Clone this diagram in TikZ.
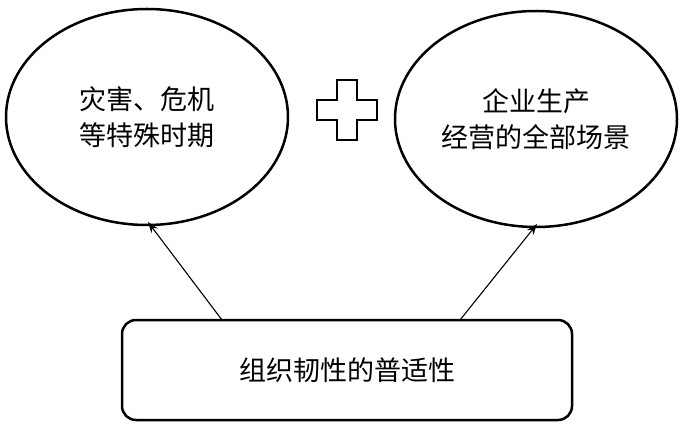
\documentclass[tikz,border=0pt]{standalone}
\usepackage{fontspec}
\usetikzlibrary{shapes.geometric,arrows.meta}
\newfontfamily\cjk{Noto Sans CJK SC}
\begin{document}
\begin{tikzpicture}[x=1pt,y=-1pt,
  el/.style={draw,line width=2.5pt,ellipse,minimum width=282pt,minimum height=216pt,font=\cjk\fontsize{27}{36}\selectfont,align=center},
  bx/.style={draw,line width=2.5pt,rounded corners=14pt,minimum width=450pt,minimum height=100pt,font=\cjk\fontsize{27}{36}\selectfont},
  ar/.style={-{Stealth[length=11pt,width=8pt]},line width=1.1pt}]
\useasboundingbox (0,0) rectangle (682,427);
\node[el] (l) at (147,117) {灾害、危机\\等特殊时期};
\node[el] (r) at (536,119) {企业生产\\经营的全部场景};
\node[bx] (b) at (347,370) {组织韧性的普适性};
\draw[line width=2.6pt] (337,80) -- (357,80) -- (357,100) -- (377,100) -- (377,120) -- (357,120) -- (357,140) -- (337,140) -- (337,120) -- (317,120) -- (317,100) -- (337,100) -- cycle;
\coordinate (a1) at (222,320);
\coordinate (a2) at (460,320);
\draw[ar] (a1) -- (148,222);
\draw[ar] (a2) -- (537,224);
\end{tikzpicture}
\end{document}
